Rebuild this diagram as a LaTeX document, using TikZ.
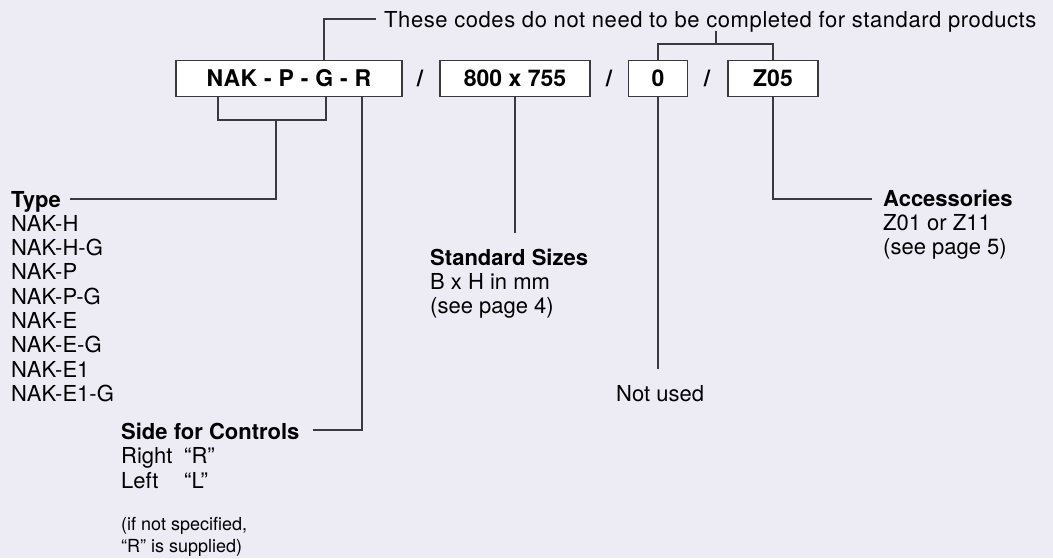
\documentclass[tikz,border=0pt]{standalone}
\usepackage{fontspec}
\setmainfont{TeX Gyre Heros}
\definecolor{bg}{RGB}{237,236,245}
\definecolor{ln}{RGB}{58,58,62}
\begin{document}
\begin{tikzpicture}[x=1pt,y=-1pt,
  box/.style={draw=ln, line width=1.4pt, fill=white, inner sep=0pt, minimum height=36pt, font=\fontsize{23}{26}\selectfont\bfseries},
  slash/.style={inner sep=0pt, font=\fontsize{23}{26}\selectfont\bfseries},
  conn/.style={draw=ln, line width=1.3pt},
  lbl/.style={inner sep=0pt, anchor=base west, font=\fontsize{22}{24}\selectfont},
  ttl/.style={lbl, font=\fontsize{22}{24}\selectfont\bfseries},
  small/.style={lbl, font=\fontsize{18}{22}\selectfont}]
\fill[bg] (0,0) rectangle (1053,558);
\useasboundingbox (0,0) rectangle (1053,558);

% code boxes
\node[box, minimum width=226pt] (b1) at (289,78.5) {\addfontfeature{LetterSpace=2}NAK - P - G - R};
\node[box, minimum width=150pt] (b2) at (515,78.5) {800 x 755};
\node[box, minimum width=59pt] (b3) at (658,78.5) {0};
\node[box, minimum width=90pt] (b4) at (773,78.5) {Z05};
\node[slash] (s1) at (420,78.5) {/};
\node[slash] (s2) at (609,78.5) {/};
\node[slash] (s3) at (707,78.5) {/};

% top note
\node[lbl] (note) at (384,27) {\addfontfeature{LetterSpace=2.6}These codes do not need to be completed for standard products};
\coordinate (nt) at (324,19);
\coordinate (nl) at (376,19);
\draw[conn] (b1.north -| nt) -- (nt) -- (nl);
\coordinate (rt) at (716,31);
\coordinate (rb) at (716,44);
\draw[conn] (rt) -- (rb);
\draw[conn] (b3.north) -- (b3.north |- rb) -- (b4.north |- rb) -- (b4.north);

% type
\coordinate (ta) at (218,120);
\coordinate (tb) at (326,120);
\coordinate (tc) at (276,120);
\coordinate (ty) at (276,199);
\coordinate (tyl) at (70,199);
\draw[conn] (b1.south -| ta) -- (ta) -- (tb) -- (b1.south -| tb);
\draw[conn] (tc) -- (ty) -- (tyl);
\node[ttl] (type) at (11,207) {Type};
\foreach \t [count=\i] in {NAK-H,NAK-H-G,NAK-P,NAK-P-G,NAK-E,NAK-E-G,NAK-E1,NAK-E1-G}
  \node[lbl] (type\i) at (11,207+24.3*\i) {\t};

% side for controls
\coordinate (rc) at (362,430);
\coordinate (rl) at (313,430);
\draw[conn] (b1.south -| rc) -- (rc) -- (rl);
\node[ttl] (side) at (121,439) {Side for Controls};
\node[lbl] (right) at (121,463.5) {Right};
\node[lbl] (rq) at (184,463.5) {“R”};
\node[lbl] (left) at (121,488) {Left};
\node[lbl] (lq) at (184,488) {“L”};
\node[small] (n1) at (121,530) {(if not specified,};
\node[small] (n2) at (121,552) {“R” is supplied)};

% standard sizes
\coordinate (ss) at (515,233);
\draw[conn] (b2.south) -- (b2.south |- ss);
\node[ttl] (std) at (430,265) {Standard Sizes};
\node[lbl] (std1) at (430,289.3) {B x H in mm};
\node[lbl] (std2) at (430,313.6) {(see page 4)};

% not used
\coordinate (nu) at (657,369);
\draw[conn] (b3.south) -- (b3.south |- nu);
\node[lbl] (notused) at (616,401) {Not used};

% accessories
\coordinate (ac) at (774,199);
\coordinate (ac2) at (872,199);
\draw[conn] (b4.south) -- (b4.south |- ac) -- (ac2);
\node[ttl] (acc) at (883,206) {Accessories};
\node[lbl] (acc1) at (883,230.3) {Z01 or Z11};
\node[lbl] (acc2) at (883,254.6) {(see page 5)};
\end{tikzpicture}
\end{document}
